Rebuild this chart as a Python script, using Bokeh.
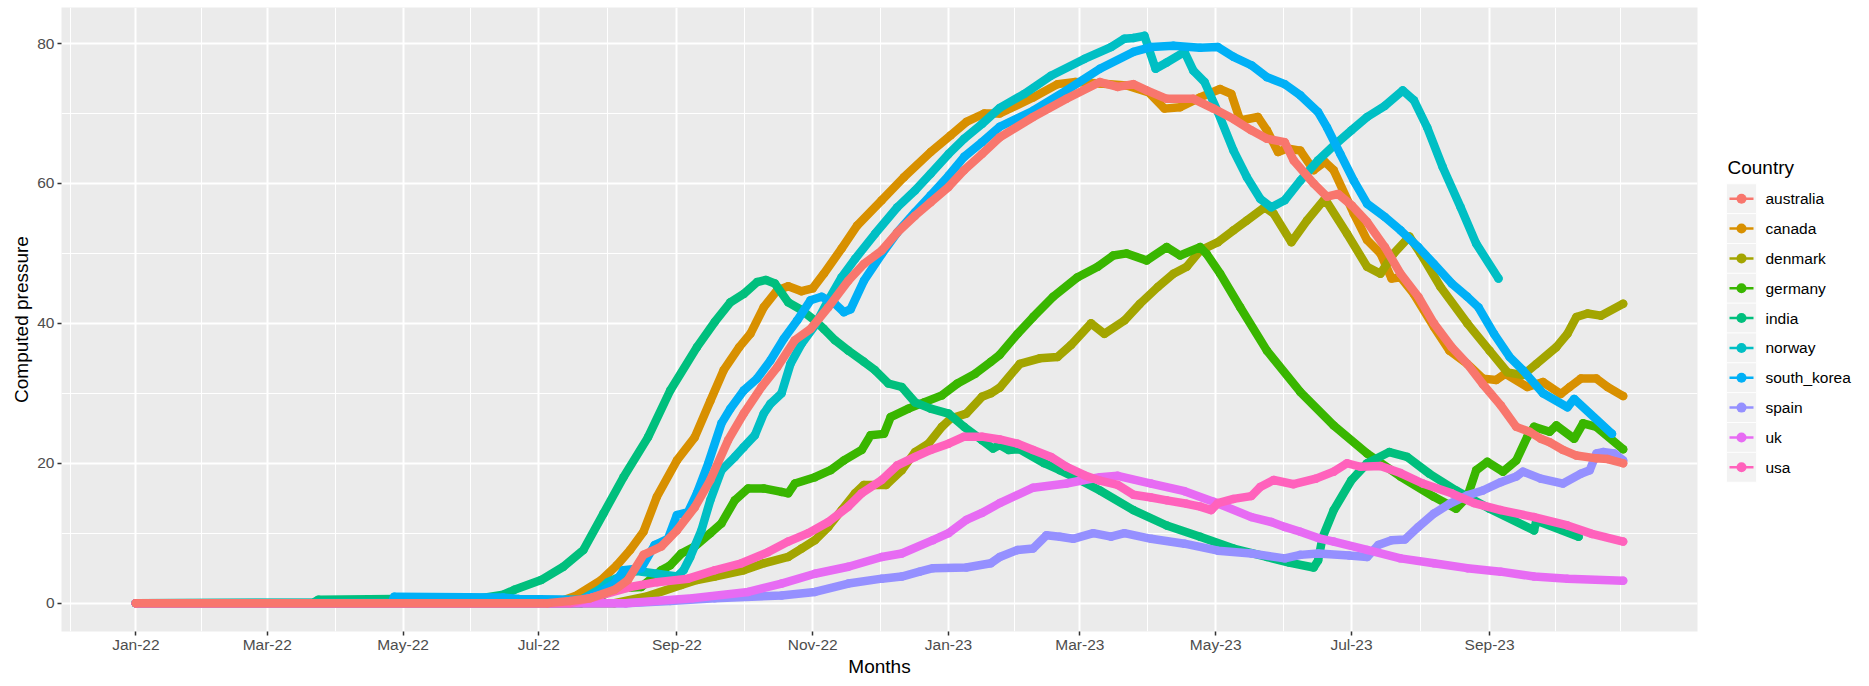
import pandas as pd
from bokeh.plotting import figure
from bokeh.models import Range1d, FixedTicker, DatetimeTickFormatter, ColumnDataSource
from bokeh.layouts import row
from bokeh.embed import file_html
from bokeh.resources import INLINE
from bokeh.core.properties import value

# ---------------- data ----------------
START = "2022-01-01"          # day 0 of every *_DAYS list
X_LIMITS_DAYS = [0, 668]      # data range (2022-01-01 .. 2023-10-31)

COUNTRIES = ["australia", "canada", "denmark", "germany", "india",
             "norway", "south_korea", "spain", "uk", "usa"]
COLORS = ["#F8766D", "#D89000", "#A3A500", "#39B600", "#00BF7D",
          "#00BFC4", "#00B0F6", "#9590FF", "#E76BF3", "#FF62BC"]

AUSTRALIA_DAYS = [0, 185, 195, 204, 215, 221, 228, 236, 243, 251, 258, 266, 273, 281, 288, 296, 303, 311, 320, 327,
                  335, 342, 350, 357, 365, 372, 380, 388, 403, 418, 433, 441, 448, 454, 463, 475, 484, 493, 501, 508,
                  516, 520, 529, 535, 540, 546, 553, 561, 568, 576, 583, 591, 598, 605, 613, 620, 626, 631, 635, 641,
                  647, 656, 661, 668]
AUSTRALIA_VALS = [0, 0, 0.3, 0.7, 1.9, 3.3, 6.9, 8.1, 10.4, 13.7, 17.6, 23.3, 27.1, 30.9, 33.7, 37.6, 39.2, 42.3, 46.1, 48.5,
                  50.4, 53.0, 55.4, 57.3, 59.5, 61.9, 64.2, 66.6, 69.5, 72.1, 74.5, 73.8, 74.2, 73.3, 72.1, 72.1, 70.7, 69.2, 67.6, 66.4,
                  65.9, 63.3, 60.0, 58.1, 58.5, 56.9, 54.5, 50.9, 47.1, 43.8, 40.0, 36.6, 34.2, 31.3, 28.3, 25.2, 24.5, 23.5, 23.0, 21.9,
                  21.1, 20.7, 20.6, 20.0]

CANADA_DAYS = [0, 185, 192, 198, 209, 216, 222, 228, 234, 243, 251, 258, 264, 271, 276, 282, 288, 293, 299, 304,
               309, 317, 324, 335, 345, 357, 366, 373, 381, 388, 403, 414, 422, 433, 445, 455, 462, 469, 478, 487,
               492, 496, 504, 508, 513, 517, 523, 529, 534, 538, 547, 553, 559, 564, 568, 574, 583, 590, 598, 605,
               611, 615, 625, 632, 640, 644, 649, 656, 661, 668]
CANADA_VALS = [0, 0, 0.4, 1.1, 3.3, 5.4, 7.6, 10.2, 15.2, 20.4, 23.7, 28.9, 33.3, 36.6, 38.5, 42.3, 44.7, 45.3, 44.6, 45.0,
               47.1, 50.7, 54.0, 57.6, 60.9, 64.5, 66.9, 68.8, 70.0, 70.0, 72.3, 74.2, 74.5, 74.3, 74.0, 73.0, 70.7, 70.9, 72.3, 73.5,
               72.8, 69.0, 69.5, 67.6, 64.5, 65.0, 64.7, 61.9, 63.1, 61.9, 55.7, 51.9, 50.0, 46.4, 46.6, 44.2, 39.5, 36.1, 34.2, 32.1,
               31.9, 32.8, 30.9, 31.6, 29.9, 30.9, 32.1, 32.1, 30.9, 29.6]

DENMARK_DAYS = [0, 215, 230, 245, 252, 260, 273, 282, 293, 299, 305, 311, 317, 323, 327, 337, 344, 350, 356, 362,
                366, 373, 380, 384, 388, 397, 406, 414, 420, 429, 435, 444, 451, 459, 466, 472, 478, 486, 493, 499,
                507, 511, 519, 526, 534, 544, 553, 559, 565, 572, 577, 586, 598, 608, 616, 623, 629, 638, 643, 647,
                652, 658, 668]
DENMARK_VALS = [0, 0, 1.0, 2.6, 3.3, 3.8, 4.7, 5.7, 6.6, 7.8, 9.0, 10.9, 13.3, 15.7, 16.9, 16.9, 19.0, 21.6, 22.8, 25.2,
                26.4, 27.1, 29.5, 30.0, 30.8, 34.2, 35.0, 35.2, 36.9, 40.0, 38.5, 40.4, 42.8, 45.2, 47.1, 48.1, 50.4, 51.6, 53.3, 54.7,
                56.6, 55.7, 51.6, 54.7, 57.8, 52.8, 48.1, 47.1, 50.0, 52.4, 50.0, 45.2, 40.0, 36.1, 33.0, 32.6, 34.2, 36.6, 38.5, 40.9,
                41.4, 41.1, 42.8]

GERMANY_DAYS = [0, 200, 208, 215, 227, 236, 240, 245, 251, 258, 263, 269, 275, 282, 290, 293, 296, 305, 312, 318,
                326, 330, 336, 339, 347, 354, 362, 369, 377, 384, 388, 396, 403, 412, 423, 432, 439, 445, 454, 463,
                469, 478, 481, 487, 496, 508, 523, 538, 553, 568, 583, 593, 598, 602, 607, 614, 620, 625, 628, 635,
                638, 646, 650, 656, 668]
GERMANY_VALS = [0, 0, 0.8, 2.1, 2.3, 4.7, 5.4, 7.1, 8.1, 10.0, 11.4, 14.7, 16.4, 16.4, 15.9, 15.7, 17.1, 18.0, 19.0, 20.4,
                21.9, 24.0, 24.2, 26.6, 27.8, 28.7, 29.7, 31.4, 32.8, 34.5, 35.5, 38.5, 40.9, 43.8, 46.6, 48.1, 49.7, 50.0, 49.0, 50.9,
                49.7, 50.9, 49.9, 47.1, 42.3, 36.1, 30.2, 25.4, 21.4, 18.1, 15.2, 13.5, 15.2, 19.0, 20.2, 18.8, 20.4, 23.8, 25.2, 24.5,
                25.4, 23.5, 25.7, 25.2, 22.0]

INDIA_DAYS = [0, 80, 82, 116, 155, 165, 170, 182, 192, 201, 210, 219, 230, 240, 252, 260, 267, 273, 279, 283,
              287, 293, 299, 305, 309, 314, 320, 327, 332, 338, 344, 350, 357, 365, 372, 380, 385, 388, 392, 397,
              408, 415, 424, 433, 448, 463, 478, 493, 508, 518, 529, 531, 533, 538, 546, 553, 563, 571, 581, 593,
              608, 628, 629, 648]
INDIA_VALS = [0, 0.1, 0.5, 0.6, 0.7, 1.2, 1.9, 3.3, 5.2, 7.6, 12.8, 18.0, 23.7, 30.4, 36.6, 40.2, 43.0, 44.2, 45.9, 46.2,
              45.7, 43.0, 41.9, 40.4, 39.2, 37.6, 36.1, 34.5, 33.3, 31.4, 30.9, 28.7, 27.8, 27.1, 25.2, 23.3, 22.1, 22.6, 21.9, 22.0,
              20.0, 19.0, 17.6, 16.1, 13.3, 11.1, 9.5, 7.8, 6.6, 5.8, 5.1, 6.1, 9.4, 13.3, 17.6, 20.0, 21.6, 20.9, 18.5, 16.1,
              13.5, 10.4, 11.8, 9.5]

NORWAY_DAYS = [0, 195, 200, 208, 212, 219, 225, 234, 243, 246, 249, 254, 258, 263, 269, 273, 278, 282, 285, 290,
               294, 299, 305, 311, 317, 323, 332, 342, 350, 357, 365, 372, 380, 388, 399, 411, 426, 438, 444, 448,
               453, 458, 463, 471, 475, 480, 486, 493, 499, 505, 510, 516, 523, 531, 538, 546, 553, 561, 569, 574,
               580, 587, 595, 602, 612]
NORWAY_VALS = [0, 0, 0.5, 1.9, 3.0, 4.0, 4.6, 4.2, 3.8, 4.7, 6.6, 10.4, 14.7, 19.0, 20.9, 22.3, 24.0, 27.1, 28.5, 30.0,
               34.2, 37.1, 39.7, 43.3, 46.6, 49.2, 52.8, 56.6, 59.0, 61.4, 64.2, 66.4, 68.5, 70.8, 72.8, 75.4, 77.8, 79.5, 80.7, 80.8,
               81.1, 76.4, 77.3, 78.8, 76.1, 74.5, 70.2, 64.7, 60.9, 57.8, 56.6, 57.6, 60.4, 63.3, 65.4, 67.6, 69.5, 71.1, 73.3, 71.9,
               68.0, 62.3, 56.6, 51.4, 46.4]

SOUTH_KOREA_DAYS = [0, 115, 116, 165, 172, 200, 208, 215, 219, 227, 233, 239, 243, 248, 252, 257, 263, 267, 273, 279,
                    285, 291, 297, 303, 308, 314, 318, 321, 327, 335, 342, 350, 357, 365, 372, 380, 388, 403, 418, 433,
                    448, 456, 466, 478, 486, 493, 501, 508, 516, 523, 531, 535, 541, 547, 553, 561, 568, 576, 583, 591,
                    598, 603, 610, 617, 623, 632, 643, 646, 663]
SOUTH_KOREA_VALS = [0, 0.05, 0.9, 0.8, 0.6, 0.5, 1.5, 2.8, 4.7, 5.0, 8.3, 9.2, 12.6, 13.0, 15.7, 19.9, 25.7, 27.8, 30.4, 32.1,
                    34.7, 37.8, 40.4, 43.3, 43.8, 42.8, 41.6, 42.0, 46.1, 49.9, 53.0, 55.9, 58.3, 61.1, 63.8, 65.9, 68.1, 70.4, 73.3, 76.4,
                    78.8, 79.5, 79.7, 79.4, 79.5, 78.1, 76.9, 75.2, 74.2, 72.6, 70.2, 68.0, 64.2, 60.4, 57.1, 55.2, 53.3, 50.9, 48.5, 45.7,
                    43.8, 42.3, 38.5, 35.2, 33.3, 30.0, 28.0, 29.2, 24.2]

SPAIN_DAYS = [0, 220, 240, 260, 290, 305, 320, 335, 344, 352, 358, 373, 384, 388, 396, 403, 409, 415, 421, 430,
              438, 444, 456, 471, 486, 501, 516, 523, 531, 545, 553, 558, 564, 570, 576, 583, 590, 598, 605, 613,
              620, 623, 631, 641, 649, 653, 656, 659, 664, 668]
SPAIN_VALS = [0, 0, 0.3, 0.7, 1.1, 1.6, 2.8, 3.5, 3.8, 4.5, 5.0, 5.1, 5.7, 6.6, 7.6, 7.8, 9.7, 9.5, 9.2, 10.0,
              9.5, 10.0, 9.2, 8.5, 7.5, 7.1, 6.4, 6.9, 7.1, 6.8, 6.6, 8.3, 9.0, 9.1, 10.9, 12.8, 14.2, 15.4, 16.1, 17.3,
              18.1, 18.8, 17.8, 17.1, 18.5, 19.0, 21.4, 21.6, 21.4, 20.4]

UK_DAYS = [0, 220, 250, 275, 290, 305, 320, 335, 344, 358, 365, 373, 380, 388, 403, 418, 426, 433, 441, 456,
           471, 484, 501, 510, 516, 523, 531, 538, 553, 568, 583, 598, 613, 628, 643, 668]
UK_VALS = [0, 0, 0.7, 1.6, 2.8, 4.2, 5.2, 6.6, 7.1, 9.0, 10.0, 11.9, 12.9, 14.3, 16.5, 17.1, 17.6, 18.0, 18.2, 17.1,
           16.0, 14.5, 12.3, 11.6, 10.9, 10.2, 9.3, 8.8, 7.6, 6.4, 5.7, 5.0, 4.5, 3.8, 3.5, 3.2]

USA_DAYS = [0, 195, 205, 222, 234, 248, 260, 272, 284, 293, 302, 311, 320, 326, 335, 342, 350, 357, 365, 372,
            380, 388, 396, 403, 411, 418, 426, 433, 441, 448, 456, 463, 472, 478, 483, 486, 493, 501, 505, 511,
            520, 530, 538, 544, 550, 559, 568, 578, 591, 601, 613, 628, 643, 654, 668]
USA_VALS = [0, 0, 0.8, 2.3, 3.0, 3.5, 4.7, 5.7, 7.3, 8.8, 10.0, 11.6, 13.8, 15.7, 17.6, 19.7, 20.9, 21.9, 22.8, 23.8,
            23.8, 23.4, 22.8, 21.9, 20.9, 19.5, 18.3, 17.5, 16.9, 15.5, 15.1, 14.7, 14.2, 13.8, 13.3, 14.3, 14.9, 15.3, 16.6, 17.6,
            17.0, 17.8, 18.8, 20.0, 19.5, 19.6, 18.6, 17.1, 15.7, 14.3, 13.3, 12.3, 11.1, 9.9, 8.8]

SERIES = {
    "australia": (AUSTRALIA_DAYS, AUSTRALIA_VALS),
    "canada": (CANADA_DAYS, CANADA_VALS),
    "denmark": (DENMARK_DAYS, DENMARK_VALS),
    "germany": (GERMANY_DAYS, GERMANY_VALS),
    "india": (INDIA_DAYS, INDIA_VALS),
    "norway": (NORWAY_DAYS, NORWAY_VALS),
    "south_korea": (SOUTH_KOREA_DAYS, SOUTH_KOREA_VALS),
    "spain": (SPAIN_DAYS, SPAIN_VALS),
    "uk": (UK_DAYS, UK_VALS),
    "usa": (USA_DAYS, USA_VALS),
}

TICK_DATES = ["2022-01-01", "2022-03-01", "2022-05-01", "2022-07-01", "2022-09-01", "2022-11-01",
              "2023-01-01", "2023-03-01", "2023-05-01", "2023-07-01", "2023-09-01"]
TICK_LABELS = ["Jan-22", "Mar-22", "May-22", "Jul-22", "Sep-22", "Nov-22",
               "Jan-23", "Mar-23", "May-23", "Jul-23", "Sep-23"]
Y_TICKS = [0, 20, 40, 60, 80]

X_TITLE = "Months"
Y_TITLE = "Computed pressure"
LEGEND_TITLE = "Country"

# ---------------- helpers ----------------
t0 = pd.Timestamp(START)
MS_DAY = 86400000.0
t0_ms = t0.value / 1e6


def day_to_ms(d):
    return t0_ms + d * MS_DAY


# ggplot-like expansion (5 %)
span = X_LIMITS_DAYS[1] - X_LIMITS_DAYS[0]
x_lo = day_to_ms(X_LIMITS_DAYS[0] - 0.05 * span)
x_hi = day_to_ms(X_LIMITS_DAYS[1] + 0.05 * span)
y_max = max(max(v) for _, v in SERIES.values())
y_lo, y_hi = -0.05 * y_max, y_max * 1.05

# ticks / minor grid (ggplot's regular_minor_breaks logic)
major_ms = [pd.Timestamp(d).value / 1e6 for d in TICK_DATES]
bd = major_ms[1] - major_ms[0]
ext = [major_ms[0] - bd] + major_ms + [major_ms[-1] + bd]
minor_ms = [(a + b) / 2 for a, b in zip(ext[:-1], ext[1:])] + [ext[-1]]
minor_ms = [m for m in minor_ms if x_lo <= m <= x_hi]

ystep = Y_TICKS[1] - Y_TICKS[0]
yext = [Y_TICKS[0] - ystep] + Y_TICKS + [Y_TICKS[-1] + ystep]
y_minor = [(a + b) / 2 for a, b in zip(yext[:-1], yext[1:])]
y_minor = [m for m in y_minor if y_lo <= m <= y_hi]

FONT = "Liberation Sans"

# page geometry (px)
PAGE_W, PAGE_H = 1869, 686
FRAME_L, FRAME_R, FRAME_T, FRAME_B = 61, 1697, 7, 631
MAIN_W = FRAME_R + 10

# ---------------- main figure ----------------
p = figure(width=MAIN_W, height=PAGE_H, x_axis_type="datetime",
           x_range=Range1d(x_lo, x_hi), y_range=Range1d(y_lo, y_hi),
           min_border_left=FRAME_L, min_border_right=MAIN_W - FRAME_R,
           min_border_top=FRAME_T, min_border_bottom=PAGE_H - FRAME_B,
           output_backend="svg", toolbar_location=None)

p.background_fill_color = "#EBEBEB"
p.border_fill_color = "white"
p.outline_line_color = None

p.xaxis.ticker = FixedTicker(ticks=major_ms, minor_ticks=minor_ms)
p.yaxis.ticker = FixedTicker(ticks=Y_TICKS, minor_ticks=y_minor)
fmt = "%b-%y"
p.xaxis.formatter = DatetimeTickFormatter(microseconds=fmt, milliseconds=fmt, seconds=fmt, minsec=fmt,
                                          minutes=fmt, hourmin=fmt, hours=fmt, days=fmt, months=fmt, years=fmt)
p.xaxis.major_label_overrides = {int(m): lab for m, lab in zip(major_ms, TICK_LABELS)}

for g in (p.xgrid, p.ygrid):
    g.grid_line_color = "white"
    g.grid_line_width = 2
    g.minor_grid_line_color = "white"
    g.minor_grid_line_width = 1

p.axis.axis_line_color = None
p.axis.minor_tick_line_color = None
p.axis.major_tick_line_color = "#333333"
p.axis.major_tick_line_width = 1.5
p.axis.major_tick_out = 4
p.axis.major_tick_in = 0
p.axis.major_label_text_color = "#4D4D4D"
p.axis.major_label_text_font = FONT
p.axis.major_label_text_font_size = "15.5px"
p.axis.axis_label_text_font = FONT
p.axis.axis_label_text_font_size = "19px"
p.axis.axis_label_text_font_style = "normal"
p.axis.axis_label_text_color = "black"
p.xaxis.major_label_standoff = 0
p.xaxis.axis_label_standoff = 0
p.yaxis.major_label_standoff = 3
p.yaxis.axis_label_standoff = 2
p.xaxis.axis_label = X_TITLE
p.yaxis.axis_label = Y_TITLE

color_of = dict(zip(COUNTRIES, COLORS))
draw_order = [c for c in COUNTRIES if c != "australia"] + ["australia"]
for name in draw_order:
    days, vals = SERIES[name]
    src = ColumnDataSource(dict(date=[pd.Timestamp(day_to_ms(d), unit="ms") for d in days], value=vals))
    p.line("date", "value", source=src, line_color=color_of[name], line_width=8.5,
           line_join="round", line_cap="round")
    p.scatter("date", "value", source=src, size=8.5, fill_color=color_of[name], line_color=None)

# ---------------- legend panel (page-pixel coordinates; frame aligned with main frame) ----------------
LEG_W = PAGE_W - MAIN_W
leg = figure(width=LEG_W, height=PAGE_H, x_range=Range1d(MAIN_W, PAGE_W), y_range=Range1d(FRAME_B, FRAME_T),
             min_border_left=0, min_border_right=0,
             min_border_top=FRAME_T, min_border_bottom=PAGE_H - FRAME_B,
             x_axis_location=None, y_axis_location=None,
             output_backend="svg", toolbar_location=None)
leg.grid.visible = False
leg.outline_line_color = None
leg.background_fill_color = "white"
leg.border_fill_color = "white"

KEY_X0, KEY_W, KEY_TOP, KEY_H = 1726, 30, 183.3, 29.84
n = len(COUNTRIES)
tops = [KEY_TOP + i * KEY_H for i in range(n)]
centers = [t + KEY_H / 2 for t in tops]
leg.quad(left=[KEY_X0] * n, right=[KEY_X0 + KEY_W] * n, top=tops, bottom=[t + KEY_H for t in tops],
         fill_color="#F2F2F2", line_color="white", line_width=0.8)
leg.segment(x0=[KEY_X0 + 3] * n, x1=[KEY_X0 + KEY_W - 3] * n, y0=centers, y1=centers,
            line_color=COLORS, line_width=2.5)
leg.scatter(x=[KEY_X0 + KEY_W / 2] * n, y=centers, size=10, fill_color=COLORS, line_color=None)
leg.text(x=[KEY_X0 + KEY_W + 9] * n, y=centers, text=COUNTRIES, text_font=value(FONT),
         text_font_size="15.5px", text_baseline="middle", text_align="left", text_color="black")
leg.text(x=[KEY_X0 + 1], y=[166.5], text=[LEGEND_TITLE], text_font=value(FONT),
         text_font_size="19px", text_baseline="middle", text_align="left", text_color="black")

layout = row(p, leg)
open("out.html", "w").write(file_html(layout, INLINE))
